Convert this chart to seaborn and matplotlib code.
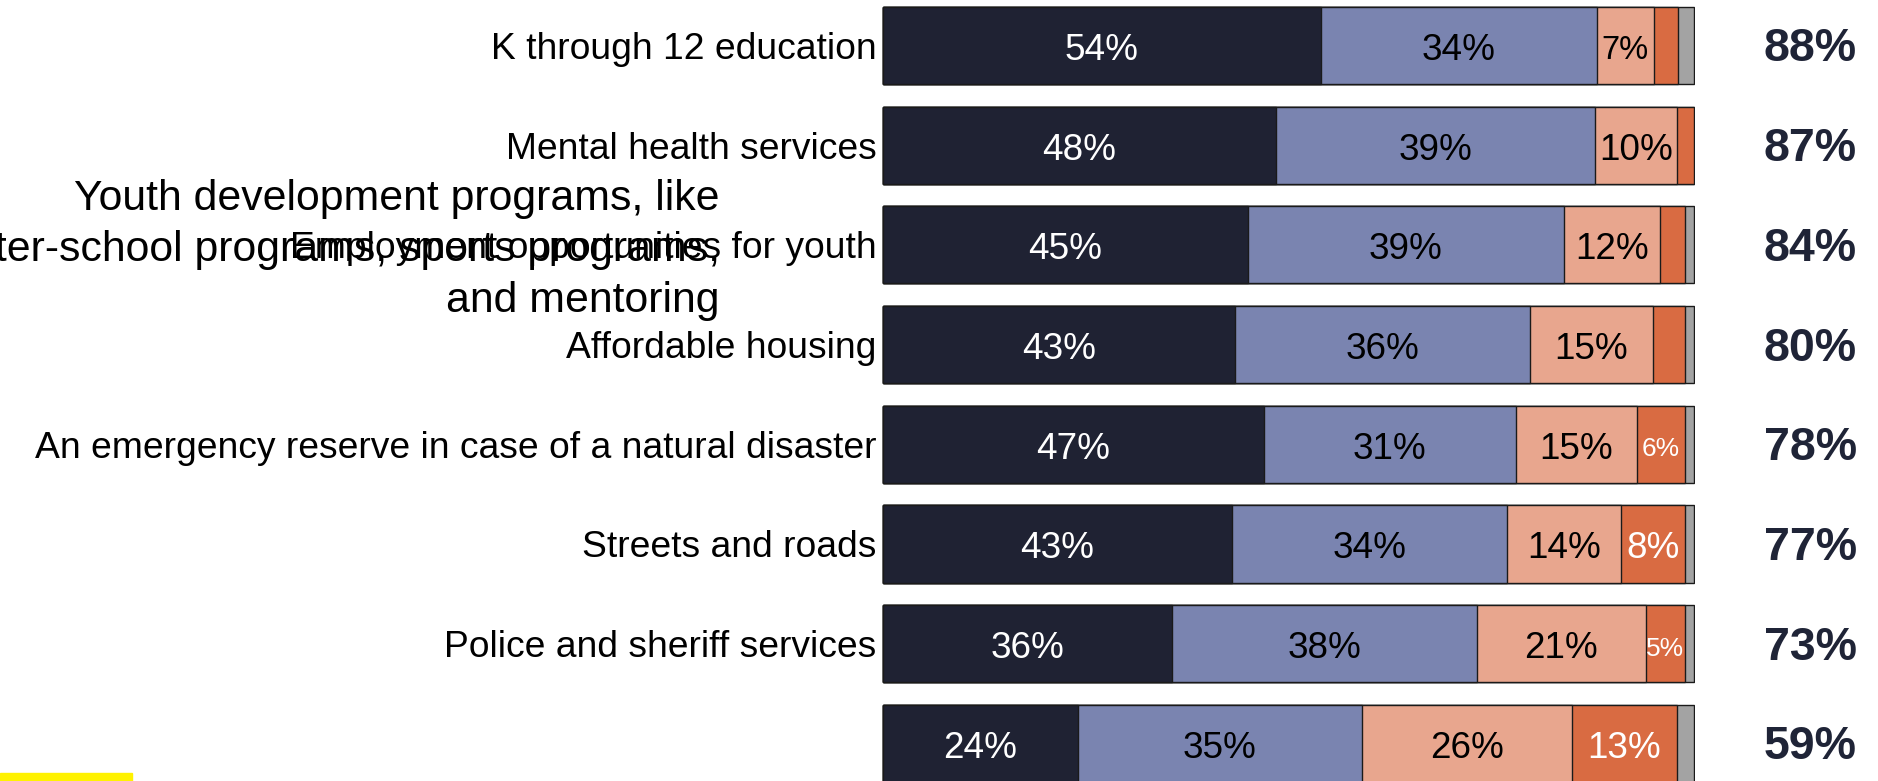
import matplotlib
matplotlib.use("Agg")
import matplotlib.pyplot as plt
from matplotlib.patches import Rectangle
import seaborn as sns
import numpy as np

sns.set_theme(style="white")
plt.rcParams['font.family'] = ['Liberation Sans', 'DejaVu Sans']

# data (shares in %, one list per response)
categories = [
    "K through 12 education",
    "Mental health services",
    "Employment opportunities for youth",
    "Affordable housing",
    "An emergency reserve in case of a natural disaster",
    "Streets and roads",
    "Police and sheriff services",
    "Youth development programs, like\nafter-school programs, sports programs,\nand mentoring",
]
very_important = [54.0, 48.4, 45.0, 43.4, 47.0, 43.0, 35.7, 24.1]
somewhat_important = [34.0, 39.4, 38.9, 36.4, 31.0, 33.9, 37.5, 34.9]
not_too_important = [7.0, 10.1, 11.9, 15.1, 14.9, 14.1, 20.8, 25.9]
not_at_all_important = [3.0, 2.1, 3.1, 4.0, 6.0, 7.9, 4.9, 13.0]
dont_know = [2.0, 0.0, 1.1, 1.1, 1.1, 1.1, 1.1, 2.1]
total_important = [88, 87, 84, 80, 78, 77, 73, 59]

colors = ["#1f2233", "#7a84b0", "#e8a68e", "#d96b42", "#a3a3a3"]
text_colors = ["white", "black", "black", "white", None]

vals = np.array([very_important, somewhat_important, not_too_important,
                 not_at_all_important, dont_know])
cum = vals.cumsum(axis=0)

fig = plt.figure(figsize=(18.78, 7.81), dpi=100)
ax = fig.add_axes([882 / 1878, 0, 813 / 1878, 1])

# stacked bars: draw cumulative totals from the outside in
for k in range(len(vals) - 1, -1, -1):
    sns.barplot(x=cum[k], y=categories, orient="y", color=colors[k],
                saturation=1, width=0.773, edgecolor="#1a1a1a",
                linewidth=1.0, errorbar=None, ax=ax)

# segment labels + totals on the right
for i in range(len(categories)):
    for k in range(4):
        v = vals[k, i]
        if v < 4.5:
            continue
        size = 19 if v < 6.5 else (23.5 if v < 7.5 else 26.6)
        ax.text(cum[k, i] - v / 2, i + 0.05, f"{v:.0f}%", ha="center",
                va="center", fontsize=size, color=text_colors[k])
    ax.text(114.3, i + 0.04, f"{total_important[i]}%", ha="center",
            va="center", fontsize=33.5, fontweight="bold", color="#1f2437",
            clip_on=False)

ax.set_xlim(-0.1, 100.1)
ax.set_ylim(7.377, -0.456)
ax.set_xticks([])
ax.set_yticks(range(len(categories)))
ax.set_yticklabels(categories[:7] + [""], fontsize=26.8, color="black")
ax.tick_params(axis="y", length=0, pad=4)
ax.set_xlabel("")
ax.set_ylabel("")
sns.despine(ax=ax, left=True, bottom=True)

# label of the last row, drawn out of place as in the source
fig.text(720 / 1878, 1 - 250 / 781, categories[7], ha="right", va="center",
         multialignment="right", fontsize=30.75, linespacing=1.35,
         color="black")

fig.patches.append(Rectangle((0, 0), 132 / 1878, 8 / 781,
                             transform=fig.transFigure, color="#fff200"))

fig.savefig("out.png", dpi=100)
